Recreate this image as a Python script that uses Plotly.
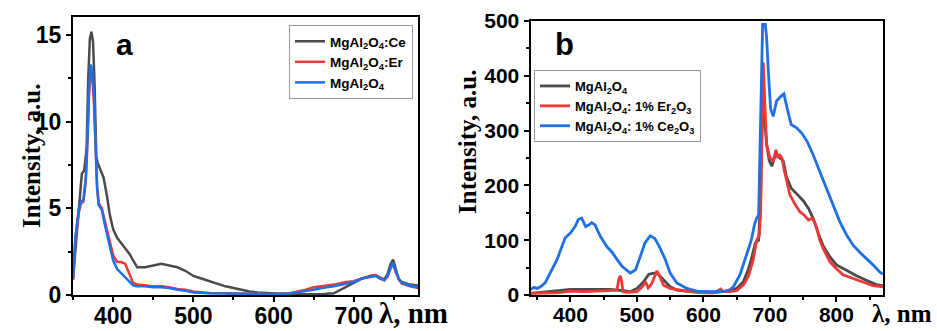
import plotly.graph_objects as go

# ---------------- Panel a data ----------------
a_ce_x = [350, 355, 358, 361, 364, 367, 369, 371, 373, 375, 377, 379, 381, 384, 388, 392, 396, 400, 405, 410,
          415, 420, 425, 430, 440, 450, 460, 470, 480, 490, 500, 510, 520, 530, 540, 550, 560, 570, 580, 600,
          620, 640, 660, 675, 690, 700, 710, 720, 727, 733, 738, 742, 746, 749, 752, 756, 760, 770, 780]
a_ce_y = [0.9, 3.5, 5.5, 7.0, 7.2, 8.5, 12.5, 14.8, 15.2, 14.6, 12.0, 8.0, 7.6, 7.3, 6.8, 5.8, 4.6, 3.8, 3.3, 3.0,
          2.7, 2.4, 2.0, 1.6, 1.6, 1.7, 1.8, 1.7, 1.6, 1.4, 1.1, 0.95, 0.8, 0.65, 0.5, 0.4, 0.3, 0.2, 0.15, 0.08,
          0.05, 0.05, 0.05, 0.1, 0.45, 0.7, 0.95, 1.1, 1.15, 1.0, 0.9, 1.2, 1.8, 2.05, 1.6, 0.9, 0.75, 0.6, 0.55]

a_x = [350, 353, 357, 360, 363, 366, 368, 370, 372, 374, 376, 378, 380, 382, 386, 390, 395, 400, 405, 410,
       415, 420, 425, 430, 440, 450, 460, 470, 480, 490, 500, 520, 540, 560, 580, 600, 620, 640, 650, 660,
       675, 690, 700, 710, 720, 727, 733, 738, 742, 746, 749, 752, 756, 760, 770, 780]
a_er_y = [0.9, 3.2, 4.7, 5.3, 5.4, 6.6, 8.8, 11.6, 12.8, 12.6, 11.2, 8.2, 6.3, 5.3, 5.0, 4.2, 3.2, 2.3, 1.9, 1.9,
          1.8, 1.3, 0.7, 0.6, 0.55, 0.5, 0.5, 0.45, 0.35, 0.3, 0.2, 0.12, 0.1, 0.08, 0.08, 0.05, 0.1, 0.3, 0.45, 0.5,
          0.6, 0.75, 0.8, 0.95, 1.05, 1.15, 0.95, 0.85, 1.05, 1.55, 1.8, 1.35, 0.9, 0.65, 0.5, 0.4]
a_mg_y = [0.9, 3.4, 4.9, 5.4, 5.5, 6.8, 9.0, 12.0, 13.3, 13.0, 11.6, 8.5, 6.2, 5.2, 4.9, 4.0, 3.0, 2.0, 1.5, 1.25,
          1.0, 0.8, 0.55, 0.5, 0.5, 0.45, 0.45, 0.4, 0.3, 0.25, 0.15, 0.1, 0.08, 0.05, 0.05, 0.05, 0.08, 0.2, 0.3, 0.4,
          0.5, 0.65, 0.75, 0.95, 1.05, 1.1, 0.95, 0.85, 1.1, 1.6, 1.85, 1.4, 0.95, 0.7, 0.55, 0.45]

# ---------------- Panel b data ----------------
b_mg_x = [340, 360, 380, 400, 420, 440, 460, 480, 490, 500, 510, 518, 525, 532, 540, 550, 560, 580, 600, 620,
          640, 650, 660, 667, 672, 678, 683, 686, 688, 690, 692, 695, 699, 703, 707, 711, 715, 720, 725, 732,
          740, 750, 758, 765, 772, 780, 790, 800, 815, 830, 845, 860, 870]
b_mg_y = [3, 5, 8, 10, 10, 10, 10, 8, 6, 12, 24, 38, 40, 38, 28, 15, 9, 6, 5, 5,
          8, 12, 24, 45, 65, 95, 100, 180, 300, 350, 320, 275, 245, 235, 252, 256, 250, 245, 215, 195,
          185, 172, 158, 140, 115, 90, 70, 55, 45, 35, 27, 19, 17]

b_er_x = [340, 360, 380, 400, 420, 440, 460, 470, 473, 475, 477, 479, 485, 500, 508, 513, 517, 522, 526, 530,
          535, 540, 550, 560, 580, 600, 615, 622, 626, 630, 640, 650, 660, 668, 675, 680, 684, 686, 688, 690,
          692, 695, 700, 705, 709, 712, 715, 718, 722, 726, 730, 738, 745, 752, 758, 763, 767, 771, 775, 780,
          790, 800, 810, 825, 840, 855, 870]
b_er_y = [3, 3, 4, 7, 6, 7, 8, 9, 30, 35, 25, 6, 5, 6, 15, 24, 13, 20, 32, 44,
          32, 18, 12, 10, 6, 4, 4, 8, 11, 6, 6, 8, 18, 35, 65, 100, 108, 150, 300, 424,
          360, 275, 250, 244, 265, 250, 255, 250, 225, 205, 183, 165, 152, 145, 137, 140, 134, 120, 100, 85,
          61, 48, 37, 30, 24, 17, 15]

b_ce_x = [340, 345, 350, 356, 362, 372, 380, 392, 400, 407, 412, 417, 423, 428, 432, 437, 445, 455, 462, 470,
          478, 490, 498, 505, 512, 520, 527, 533, 543, 550, 560, 575, 590, 610, 630, 640, 645, 655, 665, 672,
          677, 680, 683, 685, 687, 689, 693, 695, 698, 701, 705, 710, 716, 721, 726, 732, 740, 748, 756, 765,
          775, 785, 795, 805, 815, 825, 835, 845, 855, 865, 870]
b_ce_y = [10, 14, 12, 16, 22, 46, 65, 104, 113, 125, 138, 140, 125, 128, 132, 128, 107, 88, 79, 65,
          52, 40, 46, 70, 95, 108, 103, 90, 64, 40, 22, 12, 7, 6, 6, 10, 15, 37, 73, 100,
          130, 140, 146, 250, 400, 494, 494, 470, 400, 340, 326, 354, 362, 367, 340, 311, 305, 295, 280, 256,
          225, 195, 162, 134, 110, 91, 78, 67, 55, 42, 38]

a_names = ["MgAl<sub>2</sub>O<sub>4</sub>:Ce", "MgAl<sub>2</sub>O<sub>4</sub>:Er", "MgAl<sub>2</sub>O<sub>4</sub>"]
b_names = ["MgAl<sub>2</sub>O<sub>4</sub>", "MgAl<sub>2</sub>O<sub>4</sub>: 1% Er<sub>2</sub>O<sub>3</sub>",
           "MgAl<sub>2</sub>O<sub>4</sub>: 1% Ce<sub>2</sub>O<sub>3</sub>"]

GRAY = "#4b4b4b"
RED = "#ee3838"
BLUE = "#1f6fe5"

fig = go.Figure()
fig.add_trace(go.Scatter(x=a_ce_x, y=a_ce_y, name=a_names[0], mode="lines",
                         line=dict(color=GRAY, width=2.5), xaxis="x", yaxis="y", legend="legend"))
fig.add_trace(go.Scatter(x=a_x, y=a_er_y, name=a_names[1], mode="lines",
                         line=dict(color=RED, width=2.5), xaxis="x", yaxis="y", legend="legend"))
fig.add_trace(go.Scatter(x=a_x, y=a_mg_y, name=a_names[2], mode="lines",
                         line=dict(color=BLUE, width=2.5), xaxis="x", yaxis="y", legend="legend"))

fig.add_trace(go.Scatter(x=b_mg_x, y=b_mg_y, name=b_names[0], mode="lines",
                         line=dict(color=GRAY, width=2.8), xaxis="x2", yaxis="y2", legend="legend2"))
fig.add_trace(go.Scatter(x=b_er_x, y=b_er_y, name=b_names[1], mode="lines",
                         line=dict(color=RED, width=2.8), xaxis="x2", yaxis="y2", legend="legend2"))
fig.add_trace(go.Scatter(x=b_ce_x, y=b_ce_y, name=b_names[2], mode="lines",
                         line=dict(color=BLUE, width=2.8), xaxis="x2", yaxis="y2", legend="legend2"))

W, H = 937, 331
SANS = "Liberation Sans, Arial, sans-serif"
SERIF = "Liberation Serif, Times New Roman, Times, serif"
axis_common = dict(showline=True, linecolor="black", linewidth=2, mirror=True,
                   ticks="outside", ticklen=5, tickwidth=2, tickcolor="black",
                   showgrid=False, zeroline=False, color="black", automargin=False)
minor_t = dict(ticks="outside", ticklen=3, tickwidth=1.5, tickcolor="black")

fig.update_layout(
    width=W, height=H,
    margin=dict(l=0, r=0, t=0, b=0, pad=0, autoexpand=False),
    paper_bgcolor="white", plot_bgcolor="white",
    xaxis=dict(domain=[73 / W, 418 / W], range=[350, 780], dtick=100, anchor="y",
               tickfont=dict(family=SANS, size=23, weight="bold", color="black"),
               ticklabelstandoff=-6,
               minor=dict(dtick=50, **minor_t), **axis_common),
    yaxis=dict(domain=[1 - 295 / H, 1 - 17 / H], range=[0, 16.05], dtick=5, anchor="x",
               tickfont=dict(family=SANS, size=23, weight="bold", color="black"),
               minor=dict(dtick=2.5, **minor_t), **axis_common),
    xaxis2=dict(domain=[530.5 / W, 883 / W], range=[340, 870], dtick=100, anchor="y2",
                tickfont=dict(family=SANS, size=21, weight="bold", color="black"),
                ticklabelstandoff=-5,
                minor=dict(dtick=50, **minor_t), **axis_common),
    yaxis2=dict(domain=[1 - 295 / H, 1 - 21 / H], range=[0, 500], dtick=100, anchor="x2",
                tickfont=dict(family=SANS, size=21, weight="bold", color="black"),
                minor=dict(dtick=50, **minor_t), **axis_common),
    legend=dict(x=289 / W, y=1 - 25 / H, xanchor="left", yanchor="top",
                bgcolor="white", bordercolor="#9a9a9a", borderwidth=1,
                font=dict(family=SANS, size=13.5, weight="bold", color="black"),
                tracegroupgap=0, itemwidth=30),
    legend2=dict(x=534 / W, y=1 - 70 / H, xanchor="left", yanchor="top",
                 bgcolor="white", bordercolor="#9a9a9a", borderwidth=1,
                 font=dict(family=SANS, size=13, weight="bold", color="black"),
                 tracegroupgap=0, itemwidth=30),
    showlegend=True,
)

fig.add_annotation(text="Intensity, a.u.", xref="paper", yref="paper", x=31 / W, y=1 - 156 / H,
                   textangle=-90, showarrow=False,
                   font=dict(family=SERIF, size=25, weight="bold", color="black"),
                   xanchor="center", yanchor="middle")
fig.add_annotation(text="Intensity, a.u.", xref="paper", yref="paper", x=467 / W, y=1 - 142 / H,
                   textangle=-90, showarrow=False,
                   font=dict(family=SERIF, size=25, weight="bold", color="black"),
                   xanchor="center", yanchor="middle")
fig.add_annotation(text="λ, nm", xref="paper", yref="paper", x=377 / W, y=1 - 313 / H,
                   showarrow=False, font=dict(family=SERIF, size=29, weight="bold", color="black"),
                   xanchor="left", yanchor="middle")
fig.add_annotation(text="λ, nm", xref="paper", yref="paper", x=870 / W, y=1 - 313 / H,
                   showarrow=False, font=dict(family=SERIF, size=25, weight="bold", color="black"),
                   xanchor="left", yanchor="middle")
fig.add_annotation(text="a", xref="paper", yref="paper", x=124 / W, y=1 - 45 / H,
                   showarrow=False, font=dict(family=SANS, size=30, weight="bold", color="black"),
                   xanchor="center", yanchor="middle")
fig.add_annotation(text="b", xref="paper", yref="paper", x=564 / W, y=1 - 44 / H,
                   showarrow=False, font=dict(family=SANS, size=31, weight="bold", color="black"),
                   xanchor="center", yanchor="middle")

fig.write_html("out.html", config={"displayModeBar": False},
               post_script="document.body.style.margin='0px';document.body.style.overflow='hidden';")
